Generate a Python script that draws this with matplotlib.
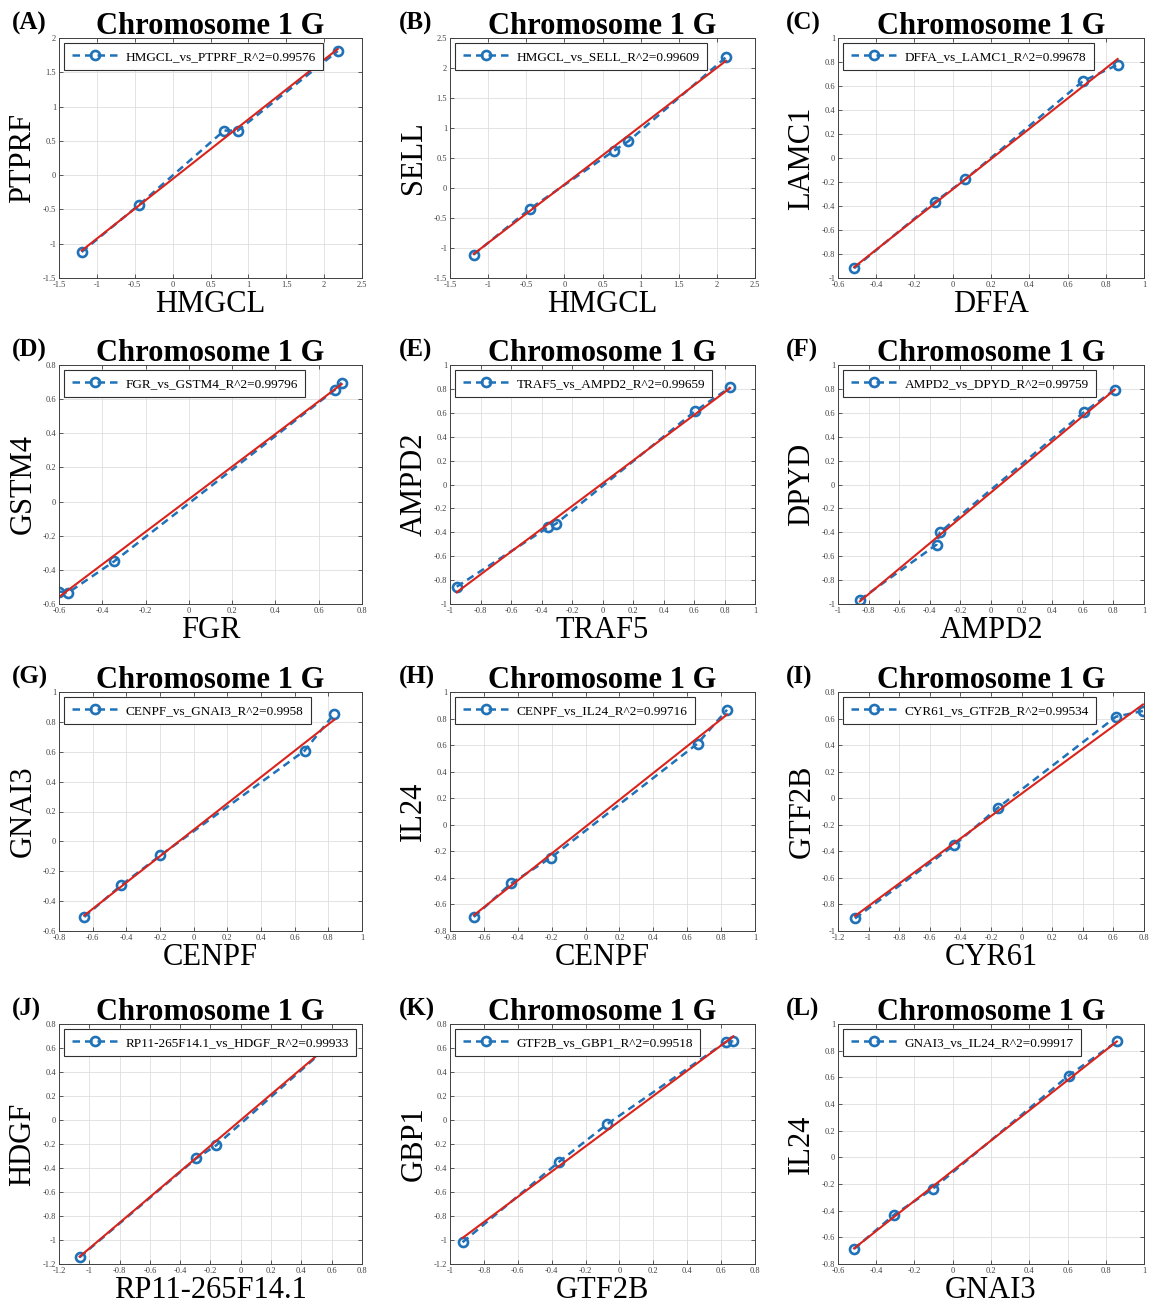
import matplotlib
matplotlib.use('Agg')
import matplotlib.pyplot as plt
import numpy as np

plt.rcParams['font.family'] = ['Liberation Serif', 'DejaVu Serif']
plt.rcParams['axes.unicode_minus'] = False

# paneles (A)-(L): nombres de genes en cada eje
letters = ['A', 'B', 'C', 'D', 'E', 'F', 'G', 'H', 'I', 'J', 'K', 'L']
x_names = ['HMGCL', 'HMGCL', 'DFFA', 'FGR', 'TRAF5', 'AMPD2',
           'CENPF', 'CENPF', 'CYR61', 'RP11-265F14.1', 'GTF2B', 'GNAI3']
y_names = ['PTPRF', 'SELL', 'LAMC1', 'GSTM4', 'AMPD2', 'DPYD',
           'GNAI3', 'IL24', 'GTF2B', 'HDGF', 'GBP1', 'IL24']
r2_values = ['0.99576', '0.99609', '0.99678', '0.99796', '0.99659', '0.99759',
             '0.9958', '0.99716', '0.99534', '0.99933', '0.99518', '0.99917']

# puntos
x_A = [-1.20, -0.44, 0.68, 0.86, 2.18]
y_A = [-1.12, -0.43, 0.65, 0.65, 1.81]
x_B = [-1.19, -0.45, 0.65, 0.84, 2.12]
y_B = [-1.11, -0.345, 0.62, 0.78, 2.18]
x_C = [-0.516, -0.094, 0.066, 0.681, 0.862]
y_C = [-0.919, -0.366, -0.177, 0.641, 0.777]
x_D = [-0.598, -0.559, -0.344, 0.673, 0.706]
y_D = [-0.527, -0.535, -0.349, 0.653, 0.696]
x_E = [-0.956, -0.356, -0.308, 0.607, 0.837]
y_E = [-0.855, -0.357, -0.331, 0.614, 0.813]
x_F = [-0.857, -0.356, -0.334, 0.611, 0.809]
y_F = [-0.964, -0.503, -0.400, 0.609, 0.794]
x_G = [-0.650, -0.432, -0.198, 0.659, 0.836]
y_G = [-0.506, -0.295, -0.094, 0.607, 0.855]
x_H = [-0.659, -0.440, -0.205, 0.661, 0.835]
y_H = [-0.694, -0.442, -0.248, 0.612, 0.866]
x_I = [-1.089, -0.439, -0.154, 0.617, 0.793]
y_I = [-0.905, -0.352, -0.071, 0.614, 0.657]
x_J = [-1.064, -0.294, -0.163, 0.60]
y_J = [-1.144, -0.320, -0.212, 0.64]
x_K = [-0.926, -0.358, -0.071, 0.628, 0.672]
y_K = [-1.019, -0.350, -0.033, 0.650, 0.656]
x_L = [-0.516, -0.307, -0.103, 0.606, 0.858]
y_L = [-0.687, -0.431, -0.235, 0.613, 0.869]

# extremos de la recta de ajuste (roja)
fit_x = [[-1.20, 2.18], [-1.19, 2.12], [-0.516, 0.862], [-0.598, 0.706],
         [-0.956, 0.837], [-0.857, 0.809], [-0.650, 0.836], [-0.659, 0.835],
         [-1.089, 0.793], [-1.064, 0.60], [-0.926, 0.672], [-0.516, 0.858]]
fit_y = [[-1.10, 1.84], [-1.10, 2.12], [-0.91, 0.825], [-0.557, 0.688],
         [-0.902, 0.807], [-0.978, 0.794], [-0.496, 0.815], [-0.681, 0.83],
         [-0.887, 0.706], [-1.139, 0.642], [-0.983, 0.697], [-0.683, 0.869]]

# limites y paso de ticks
x_lims = [(-1.5, 2.5), (-1.5, 2.5), (-0.6, 1), (-0.6, 0.8), (-1, 1), (-1, 1),
          (-0.8, 1), (-0.8, 1), (-1.2, 0.8), (-1.2, 0.8), (-1, 0.8), (-0.6, 1)]
y_lims = [(-1.5, 2), (-1.5, 2.5), (-1, 1), (-0.6, 0.8), (-1, 1), (-1, 1),
          (-0.6, 1), (-0.8, 1), (-1, 0.8), (-1.2, 0.8), (-1.2, 0.8), (-0.8, 1)]
steps = [0.5, 0.5, 0.2, 0.2, 0.2, 0.2, 0.2, 0.2, 0.2, 0.2, 0.2, 0.2]

xs = [x_A, x_B, x_C, x_D, x_E, x_F, x_G, x_H, x_I, x_J, x_K, x_L]
ys = [y_A, y_B, y_C, y_D, y_E, y_F, y_G, y_H, y_I, y_J, y_K, y_L]

W, H = 1160, 1308
fig = plt.figure(figsize=(W / 100, H / 100), dpi=100)

col_lr = [(59, 362), (450, 755), (838, 1144)]
row_tb = [(38, 278), (365, 604), (692, 931), (1024, 1264)]
col_orig = [0, 387, 774]

blue = '#1f72b8'
red = '#d9241c'


def ticks(lo, hi, step):
    # +0.0 evita el "-0"
    return np.round(np.arange(lo, hi + 1e-9, step), 2) + 0.0


for i, L in enumerate(letters):
    r, c = divmod(i, 3)
    l, rr = col_lr[c]
    t, b = row_tb[r]
    ax = fig.add_axes([l / W, 1 - b / H, (rr - l) / W, (b - t) / H])

    ax.plot(xs[i], ys[i], linestyle=(0, (3, 2)), lw=1.8, color=blue,
            marker='o', ms=6.5, mew=1.9, mfc='none',
            label=f'{x_names[i]}_vs_{y_names[i]}_R^2={r2_values[i]}')
    ax.plot(fit_x[i], fit_y[i], '-', color=red, lw=1.5)

    ax.set_xlim(x_lims[i])
    ax.set_ylim(y_lims[i])
    ax.set_xticks(ticks(x_lims[i][0], x_lims[i][1], steps[i]))
    ax.set_yticks(ticks(y_lims[i][0], y_lims[i][1], steps[i]))
    ax.xaxis.set_major_formatter(matplotlib.ticker.FormatStrFormatter('%g'))
    ax.yaxis.set_major_formatter(matplotlib.ticker.FormatStrFormatter('%g'))
    ax.tick_params(labelsize=6, colors='#404040', direction='in', length=3,
                   width=0.6, pad=2, top=True, right=True)
    ax.grid(True, color='#dedede', lw=0.6)
    ax.set_axisbelow(True)
    for s in ax.spines.values():
        s.set_color('#404040')
        s.set_linewidth(0.7)

    ax.set_title('Chromosome 1 G', fontsize=22, fontweight='bold', pad=3)
    ax.set_xlabel(x_names[i], fontsize=22, labelpad=1)
    ax.set_ylabel(y_names[i], fontsize=22, labelpad=4)

    leg = ax.legend(loc='upper left', fontsize=9.5, handlelength=3.6,
                    handletextpad=0.5, borderpad=0.55, borderaxespad=0.4,
                    fancybox=False, framealpha=1, edgecolor='#303030')
    leg.get_frame().set_linewidth(0.8)

    fig.text((col_orig[c] + 12) / W, 1 - (t - 8) / H, f'({L})',
             fontsize=18, fontweight='bold', va='baseline', ha='left')

fig.savefig('out.png', dpi=100)
